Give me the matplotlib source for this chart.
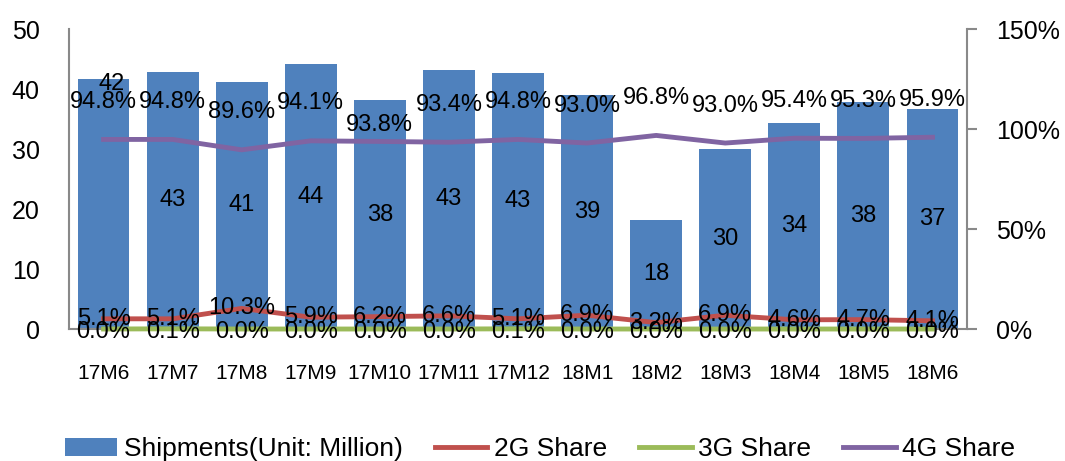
import matplotlib
matplotlib.use('Agg')
import matplotlib.pyplot as plt
from matplotlib.ticker import PercentFormatter
import numpy as np

plt.rcParams['font.family'] = ['Liberation Sans', 'DejaVu Sans']

months = ['17M6', '17M7', '17M8', '17M9', '17M10', '17M11', '17M12',
          '18M1', '18M2', '18M3', '18M4', '18M5', '18M6']
shipments = [41.7, 42.9, 41.2, 44.1, 38.1, 43.2, 42.6, 39.0, 18.2, 30.0, 34.3, 37.8, 36.6]
share_2g = [5.1, 5.1, 10.3, 5.9, 6.2, 6.6, 5.1, 6.9, 3.2, 6.9, 4.6, 4.7, 4.1]
share_3g = [0.0, 0.1, 0.0, 0.0, 0.0, 0.0, 0.1, 0.0, 0.0, 0.0, 0.0, 0.0, 0.0]
share_4g = [94.8, 94.8, 89.6, 94.1, 93.8, 93.4, 94.8, 93.0, 96.8, 93.0, 95.4, 95.3, 95.9]

c_bar = '#4F81BD'
c_2g = '#C0504D'
c_3g = '#9BBB59'
c_4g = '#8064A2'
c_axis = '#898989'

fig = plt.figure(figsize=(10.65, 4.61), dpi=100)
ax1 = fig.add_axes([0.0648, 0.2863, 0.8432, 0.6507])
x = np.arange(len(months))

bars = ax1.bar(x, shipments, width=0.75, color=c_bar, label='Shipments(Unit: Million)')
ax1.set_xlim(-0.5, len(months) - 0.5)
ax1.set_ylim(0, 50)
ax1.set_yticks(range(0, 51, 10))
ax1.set_xticks(x)
ax1.set_xticklabels(months)
ax1.tick_params(axis='y', length=0, pad=21, labelsize=18)
ax1.tick_params(axis='x', length=0, pad=25, labelsize=15)
for s in ['top', 'right']:
    ax1.spines[s].set_visible(False)
for s in ['left', 'bottom']:
    ax1.spines[s].set_color(c_axis)
    ax1.spines[s].set_linewidth(1.5)

# bar value labels (first one sits near the top of its bar)
for i, v in enumerate(shipments):
    if i == 0:
        ax1.annotate('%.0f' % v, (x[i], v), xytext=(6, -4), textcoords='offset points',
                     ha='center', va='center', fontsize=17)
    else:
        ax1.text(x[i], v / 2, '%.0f' % v, ha='center', va='center', fontsize=17)

ax2 = ax1.twinx()
ax2.set_ylim(0, 1.5)
ax2.set_yticks([0, 0.5, 1.0, 1.5])
ax2.yaxis.set_major_formatter(PercentFormatter(1.0, decimals=0))
ax2.tick_params(axis='y', length=7, width=1.5, color=c_axis, pad=14, labelsize=18)
for s in ['top', 'left', 'bottom']:
    ax2.spines[s].set_visible(False)
ax2.spines['right'].set_color(c_axis)
ax2.spines['right'].set_linewidth(1.5)

s2 = np.array(share_2g) / 100
s3 = np.array(share_3g) / 100
s4 = np.array(share_4g) / 100
l2, = ax2.plot(x, s2, color=c_2g, lw=3.5, label='2G Share', clip_on=False)
l3, = ax2.plot(x, s3, color=c_3g, lw=3.5, label='3G Share', clip_on=False)
l4, = ax2.plot(x, s4, color=c_4g, lw=3.5, label='4G Share', clip_on=False)

for i in range(len(months)):
    dy = 12 if i == 4 else 27
    ax2.annotate('%.1f%%' % share_4g[i], (x[i], s4[i]), xytext=(0, dy),
                 textcoords='offset points', ha='center', va='center', fontsize=17)
    ax2.annotate('%.1f%%' % share_2g[i], (x[i], s2[i]), xytext=(0, 0),
                 textcoords='offset points', ha='center', va='center', fontsize=17)
    ax2.annotate('%.1f%%' % share_3g[i], (x[i], s3[i]), xytext=(0, -2),
                 textcoords='offset points', ha='center', va='center', fontsize=17,
                 annotation_clip=False)

fig.legend(handles=[bars, l2, l3, l4], loc='center', bbox_to_anchor=(0.507, 0.026),
           ncol=4, frameon=False, fontsize=19, handlelength=2.0, handletextpad=0.25,
           columnspacing=1.2, borderpad=0)

fig.savefig('out.png', dpi=100)
